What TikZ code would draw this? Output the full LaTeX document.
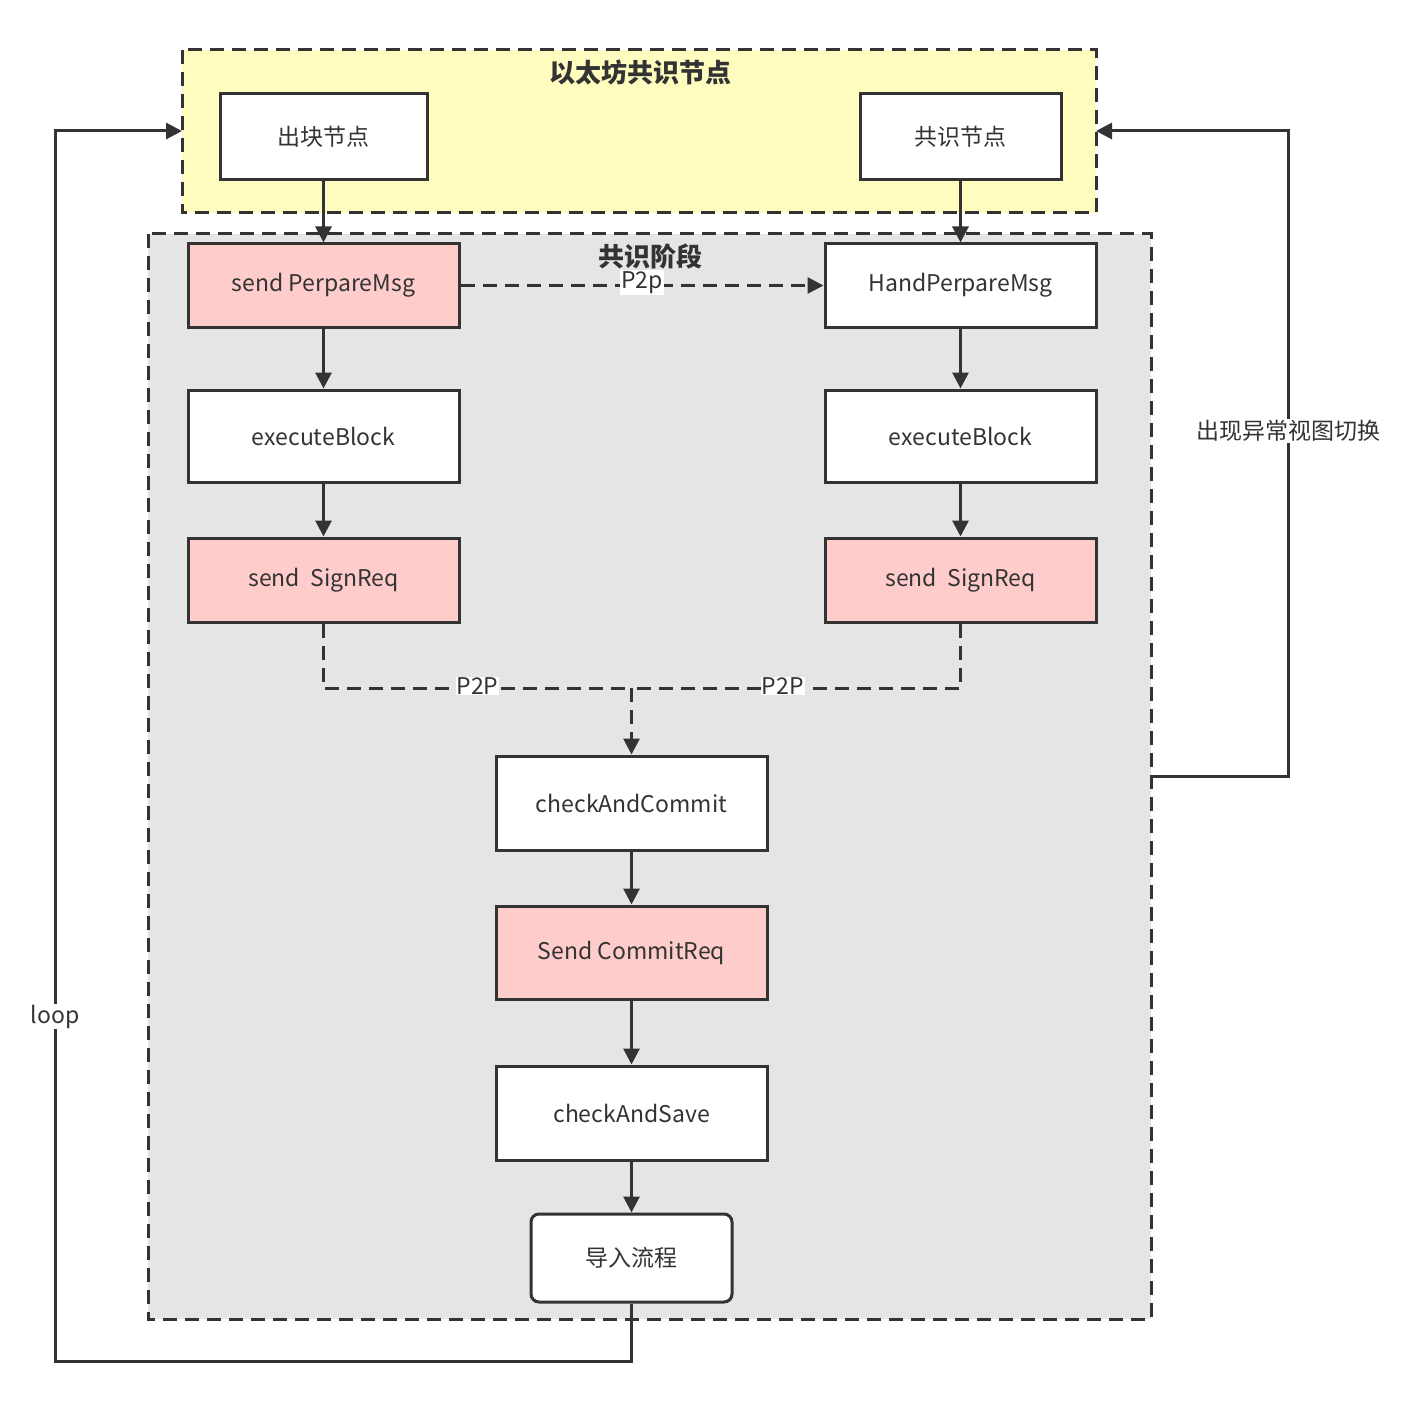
\documentclass[tikz,border=0pt]{standalone}
\usepackage{fontspec}
\setmainfont{Noto Sans CJK SC}
\usetikzlibrary{arrows.meta}
\begin{document}
\begin{tikzpicture}[x=1pt,y=-1pt,
  box/.style={draw=black!80,line width=3pt,minimum width=#1,inner sep=0pt,font=\fontsize{23}{26}\selectfont,text=black!80},
  pink/.style={fill=red!20},
  line/.style={draw=black!80,line width=3pt},
  arr/.style={line,-{Triangle[length=16pt,width=16pt]}},
  lbl/.style={fill=white,inner sep=1pt,font=\fontsize{23}{26}\selectfont,text=black!80}]
\useasboundingbox (0,0) rectangle (1423,1412);
\path[fill=yellow!25,line,dashed,dash pattern=on 14pt off 8pt] (182,50) rectangle (1096,213);
\node[font=\bfseries\fontsize{26}{30}\selectfont,text=black!80] (t1) at (640,72) {以太坊共识节点};
\path[fill=black!10,line,dash pattern=on 14pt off 8pt] (148,234) rectangle (1151,1319);
\node[font=\bfseries\fontsize{26}{30}\selectfont,text=black!80] (t2) at (650,256) {共识阶段};
\node[box=207pt,minimum height=86pt,fill=white] (a) at (323.5,137) {出块节点};
\node[box=201pt,minimum height=86pt,fill=white] (b) at (960.5,137) {共识节点};
\node[box=271pt,minimum height=83pt,pink] (sp) at (323.5,285.5) {send PerpareMsg};
\node[box=271pt,minimum height=83pt,fill=white] (hp) at (960.5,285.5) {HandPerpareMsg};
\node[box=271pt,minimum height=92pt,fill=white] (e1) at (323.5,436) {executeBlock};
\node[box=271pt,minimum height=92pt,fill=white] (e2) at (960.5,436) {executeBlock};
\node[box=271pt,minimum height=84pt,pink] (s1) at (323.5,580) {send\ \ SignReq};
\node[box=271pt,minimum height=84pt,pink] (s2) at (960.5,580) {send\ \ SignReq};
\node[box=271pt,minimum height=94pt,fill=white] (cc) at (631.5,803) {checkAndCommit};
\node[box=271pt,minimum height=93pt,pink] (sc) at (631.5,952.5) {Send CommitReq};
\node[box=271pt,minimum height=94pt,fill=white] (cs) at (631.5,1113) {checkAndSave};
\node[box=201pt,minimum height=88pt,fill=white,rounded corners=8pt] (im) at (631.5,1258) {导入流程};
\draw[arr] (a) -- (sp);
\draw[arr] (b) -- (hp);
\draw[arr] (sp) -- (e1);
\draw[arr] (hp) -- (e2);
\draw[arr] (e1) -- (s1);
\draw[arr] (e2) -- (s2);
\draw[arr] (cc) -- (sc);
\draw[arr] (sc) -- (cs);
\draw[arr] (cs) -- (im);
\draw[arr,dash pattern=on 14pt off 8pt] (sp.east) -- node[lbl,pos=0.5,yshift=3pt]{P2p} (hp.west);
\coordinate (m) at (631.5,688);
\draw[line,dash pattern=on 14pt off 8pt] (s1.south) |- node[lbl,pos=0.75,yshift=2pt]{P2P} (m);
\draw[line,dash pattern=on 14pt off 8pt] (s2.south) |- node[lbl,pos=0.77,yshift=2pt]{P2P} (m);
\draw[arr,dash pattern=on 14pt off 8pt] (m) -- (cc.north);
\coordinate (l1) at (631.5,1361); \coordinate (l2) at (55,1361); \coordinate (l3) at (55,131); \coordinate (l4) at (182,131);
\draw[arr] (im.south) -- (l1) -- (l2) -- node[lbl,pos=0.28]{loop} (l3) -- (l4);
\coordinate (r1) at (1151,776); \coordinate (r2) at (1288,776); \coordinate (r3) at (1288,131); \coordinate (r4) at (1096,131);
\draw[arr] (r1) -- (r2) -- node[lbl,pos=0.535]{出现异常视图切换} (r3) -- (r4);
\end{tikzpicture}
\end{document}
